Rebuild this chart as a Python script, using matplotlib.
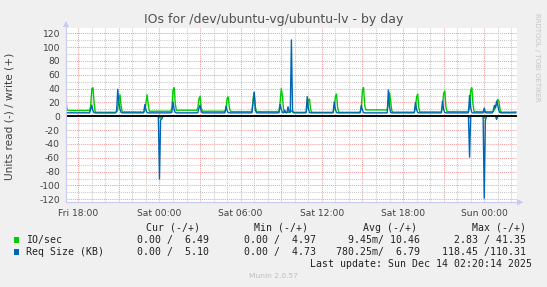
import numpy as np
import matplotlib
matplotlib.use("Agg")
import matplotlib.pyplot as plt
import matplotlib.dates as mdates
from matplotlib.ticker import MultipleLocator, FuncFormatter
from matplotlib.patches import Rectangle, Polygon
from datetime import datetime, timedelta

# ---------------- data (5-minute samples starting Fri 2025-12-12 17:00) ----------------
START = datetime(2025, 12, 12, 17, 0)

io_write_rows = [
    [34, 24, 10, 8.3, 8.5, 8.2, 8.4, 8.6, 8.3, 8.1, 8.4, 8.5],
    [8.3, 8.2, 8.6, 8.4, 8.3, 8.5, 8.2, 8.4, 8.6, 8.3, 8.4, 15],
    [40, 41.3, 20, 6.5, 5.8, 5.9, 5.7, 5.8, 6.0, 5.8, 5.7, 5.9],
    [5.8, 5.9, 5.7, 5.8, 6.0, 5.8, 5.9, 5.7, 5.8, 5.9, 6.2, 10],
    [26, 31, 14, 6.3, 5.9, 6.8, 5.8, 6.7, 5.9, 6.8, 5.8, 6.6],
    [5.9, 6.8, 5.8, 6.7, 5.9, 6.5, 5.8, 6.8, 5.9, 6.2, 6.0, 8],
    [20, 31, 18, 7.3, 7.2, 7.4, 7.3, 7.1, 7.4, 7.3, 7.2, 7.3],
    [7.4, 7.2, 7.3, 7.4, 7.2, 7.3, 7.1, 7.4, 7.3, 7.2, 7.5, 12],
    [38, 41.3, 18, 8.8, 8.9, 8.7, 8.8, 9.0, 8.8, 8.7, 8.9, 8.8],
    [8.7, 8.9, 8.8, 8.6, 8.9, 8.8, 8.7, 8.9, 8.8, 8.6, 12, 25],
    [29, 12, 7.4, 7.3, 7.2, 7.4, 7.3, 7.1, 7.4, 7.3, 7.2, 7.3],
    [7.4, 7.2, 7.3, 7.1, 7.4, 7.3, 7.2, 7.4, 7.3, 7.1, 7.4, 10],
    [26, 28, 12, 6.8, 6.9, 6.7, 6.8, 6.6, 6.9, 6.8, 6.7, 6.9],
    [6.8, 6.7, 6.9, 6.8, 6.6, 6.8, 6.9, 6.7, 6.8, 6.9, 6.8, 24],
    [34, 14, 6.9, 6.8, 6.7, 6.9, 6.8, 6.6, 6.8, 6.9, 6.7, 6.8],
    [6.9, 6.8, 6.7, 6.8, 6.9, 6.6, 6.8, 6.7, 6.9, 6.8, 7.0, 20],
    [40, 30, 10, 5.8, 5.6, 5.7, 5.9, 5.6, 6.5, 8, 6.2, 5.7],
    [5.8, 5.7, 5.9, 5.8, 5.6, 5.8, 5.9, 5.7, 5.8, 5.9, 6.0, 12],
    [24, 25, 10, 5.9, 5.8, 5.7, 5.9, 5.8, 5.6, 5.8, 5.9, 5.7],
    [5.8, 5.9, 5.7, 5.8, 5.6, 5.9, 5.8, 5.7, 5.9, 5.8, 6.0, 12],
    [28, 32, 12, 5.9, 5.8, 5.7, 5.9, 5.8, 5.6, 5.8, 5.9, 5.7],
    [5.8, 5.9, 5.7, 5.8, 5.6, 5.9, 5.8, 5.7, 5.9, 5.8, 6.0, 14],
    [38, 41.35, 16, 9.2, 9.3, 9.1, 9.2, 9.4, 9.2, 9.1, 9.3, 9.2],
    [9.1, 9.3, 9.2, 9.4, 9.2, 9.1, 9.3, 9.2, 9.1, 9.3, 9.2, 20],
    [34, 22, 8, 6.1, 6.0, 5.9, 6.1, 6.0, 6.2, 5.9, 6.0, 6.1],
    [6.0, 5.9, 6.1, 6.0, 6.2, 5.9, 6.0, 6.1, 6.0, 5.9, 6.1, 12],
    [28, 32, 12, 6.3, 6.4, 6.2, 6.3, 6.5, 6.3, 6.2, 6.4, 6.3],
    [6.2, 6.4, 6.3, 6.5, 6.3, 6.2, 6.4, 6.3, 6.2, 6.4, 6.3, 14],
    [33, 36.7, 14, 6.8, 6.9, 6.7, 6.8, 6.6, 6.9, 6.8, 6.7, 6.9],
    [6.8, 6.7, 6.9, 6.8, 6.6, 6.8, 6.9, 6.7, 6.8, 6.9, 6.8, 14],
    [38, 41.3, 18, 6.8, 6.9, 6.7, 6.8, 6.6, 6.9, 6.8, 6.7, 6.9],
    [6.8, 6.7, 6.9, 6.8, 6.6, 6.8, 6.9, 6.7, 6.8, 10, 14, 18],
    [24.4, 22, 10, 6.1, 6.0, 5.9, 6.1, 6.0, 6.2, 5.9, 6.0, 6.1],
    [6.0, 6.2, 6.1, 6.3, 6.49],
]

size_write_rows = [
    [12, 7, 5.0, 5.1, 4.9, 5.0, 5.2, 5.0, 4.9, 5.1, 5.0, 4.9],
    [5.0, 5.1, 4.9, 5.0, 5.2, 5.0, 4.9, 5.1, 5.0, 4.9, 5.0, 10],
    [16, 8, 5.2, 4.9, 4.8, 4.9, 4.8, 4.9, 4.8, 4.9, 4.8, 4.9],
    [4.8, 4.9, 4.8, 4.9, 4.8, 4.9, 4.8, 4.9, 4.8, 4.9, 8, 39],
    [20, 10, 5.5, 5.0, 4.9, 5.0, 4.9, 5.0, 4.9, 5.0, 4.9, 5.0],
    [4.9, 5.0, 4.9, 5.0, 4.9, 5.0, 4.9, 5.0, 4.9, 5.0, 5.2, 17],
    [9, 5.5, 5.0, 4.9, 5.0, 4.9, 5.0, 4.9, 5.0, 4.9, 5.0, 4.9],
    [5.0, 4.9, 5.0, 4.9, 5.0, 4.9, 5.0, 4.9, 5.0, 4.9, 5.0, 6],
    [21, 10, 5.5, 5.0, 4.9, 5.0, 4.9, 5.0, 4.9, 5.0, 4.9, 5.0],
    [4.9, 5.0, 4.9, 5.0, 4.9, 5.0, 4.9, 5.0, 4.9, 5.0, 5.2, 12],
    [16, 7, 5.0, 4.9, 5.0, 4.9, 5.0, 4.9, 5.0, 4.9, 5.0, 4.9],
    [5.0, 4.9, 5.0, 4.9, 5.0, 4.9, 5.0, 4.9, 5.0, 4.9, 5.1, 14.5],
    [8, 5.2, 5.0, 4.9, 5.0, 4.9, 5.0, 4.9, 5.0, 4.9, 5.0, 4.9],
    [5.0, 4.9, 5.0, 4.9, 5.0, 4.9, 5.0, 4.9, 5.0, 4.9, 5.2, 20],
    [35, 9, 5.2, 5.0, 4.9, 5.0, 4.9, 5.0, 4.9, 5.0, 4.9, 5.0],
    [4.9, 5.0, 4.9, 5.0, 4.9, 5.0, 4.9, 5.0, 4.9, 5.0, 5.2, 17],
    [10, 5.5, 5.0, 8.8, 5.2, 5.0, 13.7, 6, 6, 110.31, 8, 5.0],
    [4.9, 5.0, 4.9, 5.0, 4.9, 5.0, 4.9, 5.0, 4.9, 5.0, 5.2, 28.4],
    [12, 5.5, 5.0, 4.9, 5.0, 4.9, 5.0, 4.9, 5.0, 4.9, 5.0, 4.9],
    [5.0, 4.9, 5.0, 4.9, 5.0, 4.9, 5.0, 4.9, 5.0, 4.9, 5.2, 20.6],
    [10, 5.5, 5.0, 4.9, 5.0, 4.9, 5.0, 4.9, 5.0, 4.9, 5.0, 4.9],
    [5.0, 4.9, 5.0, 4.9, 5.0, 4.9, 5.0, 4.9, 5.0, 4.9, 5.2, 15.5],
    [9, 5.3, 5.0, 4.9, 5.0, 4.9, 5.0, 4.9, 5.0, 4.9, 5.0, 4.9],
    [5.0, 4.9, 5.0, 4.9, 5.0, 4.9, 5.0, 4.9, 5.0, 4.9, 5.2, 38],
    [14, 5.5, 5.0, 4.9, 5.0, 4.9, 5.0, 4.9, 5.0, 4.9, 5.0, 4.9],
    [5.0, 4.9, 5.0, 4.9, 5.0, 4.9, 5.0, 4.9, 5.0, 4.9, 5.2, 20],
    [10, 5.5, 5.0, 4.9, 5.0, 4.9, 5.0, 4.9, 5.0, 4.9, 5.0, 4.9],
    [5.0, 4.9, 5.0, 4.9, 5.0, 4.9, 5.0, 4.9, 5.0, 4.9, 5.2, 22],
    [10, 5.5, 5.0, 4.9, 5.0, 4.9, 5.0, 4.9, 5.0, 4.9, 5.0, 4.9],
    [5.0, 4.9, 5.0, 4.9, 5.0, 4.9, 5.0, 4.9, 5.0, 4.9, 5.2, 30],
    [12, 5.5, 5.0, 4.9, 5.0, 4.9, 5.0, 4.9, 5.0, 4.9, 5.0, 4.9],
    [12, 5.2, 5.0, 4.9, 5.0, 4.9, 5.0, 4.9, 8, 15.6, 12, 22],
    [16, 8, 5.2, 5.0, 4.9, 5.0, 4.9, 5.0, 4.9, 5.0, 4.9, 5.0],
    [5.0, 5.1, 5.0, 5.1, 5.10],
]

# read side (plotted negative); zero everywhere except these samples
read_times = ["2025-12-13 00:00", "2025-12-13 00:05", "2025-12-13 00:10",
              "2025-12-13 22:55", "2025-12-14 00:00", "2025-12-14 00:05",
              "2025-12-14 00:55"]
read_size_vals = [90.6, 5.0, 4.0, 59.0, 118.45, 6.0, 4.5]
read_io_vals = [1.5, 2.5, 0.0, 2.0, 2.83, 0.0, 1.5]

legend_rows = [
    ("IO/sec", "#00CC00", "0.00 /  6.49", "0.00 /  4.97", "9.45m/ 10.46", "2.83 / 41.35"),
    ("Req Size (KB)", "#0066B3", "0.00 /  5.10", "0.00 /  4.73", "780.25m/  6.79", "118.45 /110.31"),
]
headers = ["Cur (-/+)", "Min (-/+)", "Avg (-/+)", "Max (-/+)"]

# ---------------- build series ----------------
io_write = np.array([v for r in io_write_rows for v in r], dtype=float)
size_write = np.array([v for r in size_write_rows for v in r], dtype=float)
n = len(io_write)
times = [START + timedelta(minutes=5 * i) for i in range(n)]
idx = {t: i for i, t in enumerate(times)}
read_io = np.zeros(n)
read_size = np.zeros(n)
for ts, vs, vi in zip(read_times, read_size_vals, read_io_vals):
    i = idx[datetime.strptime(ts, "%Y-%m-%d %H:%M")]
    read_size[i] = vs
    read_io[i] = vi

GREEN = "#00CC00"
BLUE = "#0066B3"
W, H = 547, 287

def fx(px):
    return px / W

def fy(py):
    return 1 - py / H

fig = plt.figure(figsize=(W / 100, H / 100), dpi=100, facecolor="#F0F0F0")
L, R, T, B = 66, 516.7, 28, 202.3
ax = fig.add_axes([fx(L), fy(B), fx(R) - fx(L), fy(T) - fy(B)])
ax.set_facecolor("white")

lw = 1.0
ax.plot(times, -read_io, color=GREEN, lw=lw, zorder=3)
ax.plot(times, io_write, color=GREEN, lw=lw, zorder=3)
ax.plot(times, -read_size, color=BLUE, lw=lw, zorder=4)
ax.plot(times, size_write, color=BLUE, lw=lw, zorder=4)
ax.axhline(0, color="black", lw=1.3, zorder=5)

ax.set_xlim(datetime(2025, 12, 12, 17, 5, 30), datetime(2025, 12, 14, 2, 24))
ax.set_ylim(-124.3, 127.6)

ax.xaxis.set_major_locator(mdates.HourLocator(byhour=range(0, 24, 3)))
ax.xaxis.set_minor_locator(mdates.HourLocator())

def xfmt(x, pos):
    d = mdates.num2date(x)
    return d.strftime("%a %H:%M") if d.hour % 6 == 0 else ""

ax.xaxis.set_major_formatter(FuncFormatter(xfmt))
ax.yaxis.set_major_locator(MultipleLocator(20))
ax.yaxis.set_minor_locator(MultipleLocator(10))
ax.yaxis.set_major_formatter(FuncFormatter(lambda v, p: "%d" % v))

dot = (0, (1, 1))
ax.grid(which="major", color="#F2A0A0", linestyle=dot, lw=0.75, zorder=1)
ax.grid(which="minor", color="#C8C8C8", linestyle=dot, lw=0.75, zorder=1)
ax.set_axisbelow(True)

ax.tick_params(which="both", length=0, labelsize=6.6, labelcolor="#404040")
ax.tick_params(axis="y", pad=4.3)
ax.tick_params(axis="x", pad=4.5)
for s in ax.spines.values():
    s.set_visible(False)

# axis lines with arrows (RRDtool style)
AX_C = "#C8C8F0"
fig.add_artist(plt.Line2D([fx(L), fx(L)], [fy(B), fy(26)], color=AX_C, lw=0.8))
fig.add_artist(plt.Line2D([fx(L), fx(518)], [fy(B), fy(B)], color=AX_C, lw=0.8))
fig.add_artist(Polygon([[fx(L - 3), fy(27)], [fx(L + 3), fy(27)], [fx(L), fy(21)]],
                       closed=True, color=AX_C, lw=0))
fig.add_artist(Polygon([[fx(517), fy(B - 3.2)], [fx(517), fy(B + 3.2)], [fx(523.5), fy(B)]],
                       closed=True, color=AX_C, lw=0))

# title and labels
fig.text(fx(273.5), fy(19.5), "IOs for /dev/ubuntu-vg/ubuntu-lv - by day",
         ha="center", va="center", fontsize=9, color="#505050", family="DejaVu Sans")
fig.text(fx(10), fy(116), "Units read (-) / write (+)", rotation=90,
         ha="center", va="center", fontsize=7.6, color="#404040", family="DejaVu Sans")
fig.text(fx(537), fy(57), "RRDTOOL / TOBI OETIKER", rotation=270,
         ha="center", va="center", fontsize=5, color="#C4C4C4", family="DejaVu Sans")

# legend
MONO = "DejaVu Sans Mono"
LFS = 7.15
LC = "#222222"
hdr_right = [200, 308.4, 417, 525.8]
val_right = [209.4, 315.8, 420.5, 525.8]
for h, xr in zip(headers, hdr_right):
    fig.text(fx(xr), fy(227.7), h, ha="right", va="center", fontsize=LFS, color=LC, family=MONO)
row_y = [240, 251.7]
for (name, col, *vals), yy in zip(legend_rows, row_y):
    fig.add_artist(Rectangle((fx(13.8), fy(yy + 2.8)), 5.6 / W, 5.6 / H,
                             facecolor=col, edgecolor="none"))
    fig.text(fx(26.2), fy(yy), name, ha="left", va="center", fontsize=LFS, color=LC, family=MONO)
    for v, xr in zip(vals, val_right):
        fig.text(fx(xr), fy(yy), v, ha="right", va="center", fontsize=LFS, color=LC, family=MONO)
fig.text(fx(532), fy(263.7), "Last update: Sun Dec 14 02:20:14 2025", ha="right", va="center",
         fontsize=LFS, color=LC, family=MONO)
fig.text(fx(273), fy(276), "Munin 2.0.57", ha="center", va="center",
         fontsize=5.4, color="#BDBDBD", family="DejaVu Sans")

fig.savefig("out.png", dpi=100, facecolor=fig.get_facecolor())
